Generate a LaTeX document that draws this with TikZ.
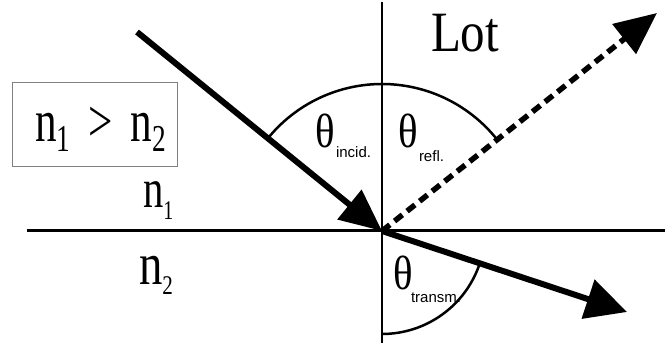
\documentclass[tikz,border=0pt]{standalone}
\usepackage{fontspec}
\setmainfont{Liberation Serif}
\setsansfont{Liberation Sans}
\usetikzlibrary{arrows.meta}
\newcommand{\fsz}[1]{\fontsize{#1}{#1}\selectfont}
\newcommand{\sxx}[2]{\scalebox{#1}[1]{#2}}
\begin{document}
\begin{tikzpicture}[x=1pt,y=1pt,
  lbl/.style={anchor=base west,inner sep=0pt,outer sep=0pt},
  ray/.style={line width=6pt,-{Triangle[length=42pt,width=37pt]}},
  arcline/.style={line width=2.5pt}]
\useasboundingbox (0,0) rectangle (665,347);
% axes
\coordinate (O) at (382,116);
\coordinate (top) at (382,345);
\coordinate (bot) at (382,4);
\coordinate (left) at (27,116);
\coordinate (right) at (665,116);
\coordinate (inc) at (137,315);
\coordinate (refl) at (657,334);
\coordinate (trans) at (627,35);
\draw[line width=2pt] (top) -- (bot);
\draw[line width=3pt] (left) -- (right);
% arcs
\draw[arcline] ([shift={(140.9:147pt)}]O) arc[start angle=140.9,end angle=38.4,radius=147pt];
\draw[arcline] ([shift={(270:103pt)}]O) arc[start angle=270,end angle=341.7,radius=103pt];
% rays
\draw[ray] (inc) -- (O);
\draw[ray,line width=5.5pt,dash pattern=on 10pt off 6pt] (O) -- (refl);
\draw[line width=6pt,-{Triangle[length=41pt,width=40pt]}] (O) -- (trans);
% labels
\node[lbl] (lot) at (431,295) {\fsz{57}\sxx{0.86}{Lot}};
\node[draw=black!50,line width=1pt,minimum width=165pt,minimum height=84pt,inner sep=0pt] (box) at (94.5,222) {};
\node[lbl] (ineq) at (35,205) {\fsz{60}\sxx{0.72}{n\raisebox{-10pt}{\fsz{38}1} \,>\, n\raisebox{-10pt}{\fsz{38}2}}};
\node[lbl] (n1) at (143,139) {\fsz{55}\sxx{0.74}{n\raisebox{-12pt}{\fsz{27}1}}};
\node[lbl] (n2) at (139,62) {\fsz{60}\sxx{0.78}{n\raisebox{-10pt}{\fsz{27}2}}};
\node[lbl] (thI) at (315,199) {\fsz{48}\sxx{0.85}{θ}};
\node[lbl] (sI) at (336,189) {\sffamily\fsz{15}incid.};
\node[lbl] (thR) at (398,199) {\fsz{48}\sxx{0.85}{θ}};
\node[lbl] (sR) at (419,185) {\sffamily\fsz{15}refl.};
\node[lbl] (thT) at (393,57) {\fsz{48}\sxx{0.85}{θ}};
\node[lbl] (sT) at (411,44) {\sffamily\fsz{15}transm.};
\end{tikzpicture}
\end{document}
